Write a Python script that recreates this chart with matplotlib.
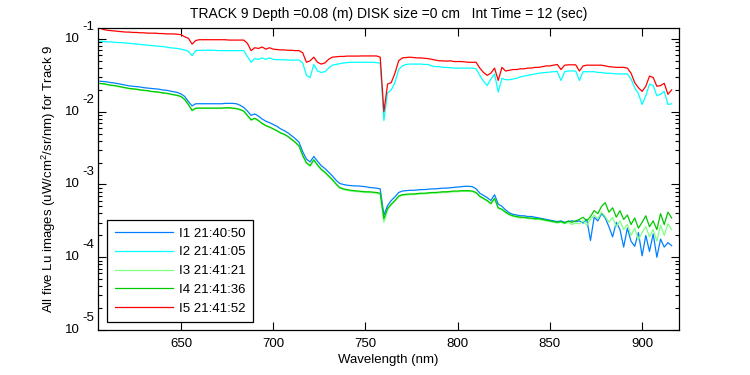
import numpy as np
import matplotlib
matplotlib.use('Agg')
import matplotlib.pyplot as plt
from matplotlib import transforms
from matplotlib.ticker import LogLocator, NullFormatter, FixedLocator

plt.rcParams['font.family'] = ['Liberation Sans', 'DejaVu Sans']
plt.rcParams['mathtext.fontset'] = 'custom'
plt.rcParams['mathtext.rm'] = 'Liberation Sans'
plt.rcParams['mathtext.it'] = 'Liberation Sans:italic'

# wavelength grid (nm), 606..916 every 2 nm
wavelength = np.arange(606, 917, 2)

# log10 of Lu values
i1_log10 = [
    -1.58, -1.585, -1.59, -1.60, -1.605, -1.615, -1.625, -1.635, -1.645, -1.65,
    -1.655, -1.66, -1.67, -1.675, -1.68, -1.685, -1.69, -1.70, -1.705, -1.715,
    -1.725, -1.735, -1.755, -1.79, -1.86, -1.92, -1.89, -1.89, -1.89, -1.89,
    -1.89, -1.89, -1.89, -1.89, -1.885, -1.885, -1.885, -1.89, -1.91, -1.94,
    -1.99, -2.05, -2.03, -2.06, -2.10, -2.13, -2.15, -2.175, -2.20, -2.235,
    -2.26, -2.29, -2.33, -2.37, -2.42, -2.55, -2.65, -2.69, -2.615, -2.68,
    -2.74, -2.78, -2.83, -2.88, -2.94, -2.985, -3.00, -3.01, -3.015, -3.02,
    -3.02, -3.025, -3.03, -3.04, -3.045, -3.05, -3.06, -3.42, -3.29, -3.22,
    -3.17, -3.11, -3.09, -3.085, -3.08, -3.08, -3.075, -3.07, -3.07, -3.065,
    -3.06, -3.06, -3.055, -3.05, -3.05, -3.045, -3.04, -3.035, -3.03, -3.025,
    -3.025, -3.03, -3.06, -3.12, -3.15, -3.18, -3.22, -3.14, -3.27, -3.30,
    -3.35, -3.39, -3.41, -3.42, -3.43, -3.43, -3.44, -3.44, -3.45, -3.46,
    -3.47, -3.48, -3.49, -3.50, -3.51, -3.50, -3.52, -3.51, -3.50, -3.51,
    -3.50, -3.53, -3.48, -3.77, -3.45, -3.50, -3.40, -3.46, -3.58, -3.72,
    -3.52, -3.62, -3.86, -3.60, -3.78, -3.85, -3.66, -3.98, -3.70, -3.92,
    -3.68, -4.00, -3.75, -3.86, -3.80, -3.84,
]
i2_log10 = [
    -1.03, -1.035, -1.04, -1.04, -1.045, -1.05, -1.05, -1.055, -1.06, -1.065,
    -1.07, -1.075, -1.08, -1.085, -1.09, -1.095, -1.10, -1.105, -1.11, -1.12,
    -1.125, -1.13, -1.14, -1.15, -1.17, -1.23, -1.16, -1.155, -1.155, -1.155,
    -1.155, -1.155, -1.16, -1.16, -1.16, -1.16, -1.16, -1.16, -1.16, -1.16,
    -1.24, -1.32, -1.27, -1.28, -1.26, -1.28, -1.26, -1.28, -1.285, -1.285,
    -1.285, -1.29, -1.29, -1.29, -1.29, -1.33, -1.50, -1.53, -1.35, -1.44,
    -1.46, -1.45, -1.40, -1.36, -1.35, -1.34, -1.33, -1.325, -1.32, -1.32,
    -1.32, -1.32, -1.32, -1.32, -1.32, -1.325, -1.33, -2.12, -1.74, -1.70,
    -1.60, -1.42, -1.37, -1.35, -1.345, -1.345, -1.345, -1.345, -1.35, -1.35,
    -1.37, -1.38, -1.38, -1.39, -1.39, -1.395, -1.40, -1.40, -1.40, -1.40,
    -1.40, -1.40, -1.41, -1.50, -1.58, -1.64, -1.55, -1.48, -1.73, -1.54,
    -1.56, -1.56, -1.55, -1.54, -1.52, -1.51, -1.50, -1.49, -1.48, -1.47,
    -1.465, -1.46, -1.455, -1.45, -1.445, -1.57, -1.45, -1.44, -1.44, -1.44,
    -1.57, -1.45, -1.45, -1.45, -1.45, -1.46, -1.46, -1.47, -1.47, -1.475,
    -1.48, -1.48, -1.48, -1.48, -1.55, -1.67, -1.75, -1.90, -1.78, -1.62,
    -1.64, -1.78, -1.76, -1.72, -1.90, -1.89,
]
i3_log10 = [
    -1.615, -1.62, -1.63, -1.64, -1.645, -1.655, -1.665, -1.675, -1.685, -1.69,
    -1.695, -1.705, -1.71, -1.715, -1.725, -1.73, -1.735, -1.745, -1.75, -1.76,
    -1.77, -1.78, -1.795, -1.835, -1.905, -1.99, -1.955, -1.955, -1.955, -1.955,
    -1.955, -1.955, -1.955, -1.955, -1.95, -1.95, -1.955, -1.96, -1.975, -1.995,
    -2.055, -2.12, -2.095, -2.125, -2.165, -2.195, -2.215, -2.24, -2.265, -2.295,
    -2.315, -2.345, -2.385, -2.425, -2.475, -2.61, -2.71, -2.75, -2.67, -2.74,
    -2.80, -2.84, -2.89, -2.94, -3.00, -3.05, -3.07, -3.08, -3.09, -3.095,
    -3.10, -3.105, -3.11, -3.11, -3.115, -3.12, -3.13, -3.52, -3.35, -3.28,
    -3.23, -3.17, -3.15, -3.145, -3.14, -3.14, -3.135, -3.13, -3.13, -3.125,
    -3.12, -3.12, -3.115, -3.11, -3.11, -3.105, -3.10, -3.10, -3.095, -3.095,
    -3.095, -3.10, -3.12, -3.17, -3.20, -3.23, -3.27, -3.20, -3.33, -3.35,
    -3.39, -3.42, -3.44, -3.45, -3.46, -3.46, -3.47, -3.47, -3.48, -3.48,
    -3.49, -3.50, -3.51, -3.52, -3.53, -3.52, -3.54, -3.52, -3.55, -3.53,
    -3.54, -3.50, -3.56, -3.48, -3.42, -3.47, -3.38, -3.44, -3.52, -3.45,
    -3.58, -3.50, -3.62, -3.55, -3.70, -3.60, -3.76, -3.66, -3.58, -3.72,
    -3.62, -3.78, -3.56, -3.70, -3.54, -3.62,
]
i4_log10 = [
    -1.61, -1.615, -1.625, -1.635, -1.64, -1.65, -1.66, -1.67, -1.68, -1.685,
    -1.69, -1.70, -1.705, -1.71, -1.72, -1.725, -1.73, -1.74, -1.745, -1.755,
    -1.765, -1.775, -1.79, -1.83, -1.90, -1.98, -1.95, -1.95, -1.95, -1.95,
    -1.95, -1.95, -1.95, -1.95, -1.945, -1.945, -1.95, -1.955, -1.97, -1.99,
    -2.05, -2.11, -2.09, -2.12, -2.16, -2.19, -2.21, -2.235, -2.26, -2.29,
    -2.31, -2.34, -2.38, -2.42, -2.47, -2.60, -2.70, -2.74, -2.66, -2.73,
    -2.79, -2.83, -2.88, -2.93, -2.99, -3.04, -3.06, -3.07, -3.08, -3.085,
    -3.09, -3.095, -3.10, -3.10, -3.105, -3.11, -3.12, -3.47, -3.33, -3.27,
    -3.22, -3.16, -3.14, -3.135, -3.13, -3.13, -3.125, -3.12, -3.12, -3.115,
    -3.11, -3.11, -3.105, -3.10, -3.10, -3.095, -3.09, -3.09, -3.085, -3.085,
    -3.085, -3.09, -3.11, -3.16, -3.19, -3.22, -3.26, -3.19, -3.32, -3.34,
    -3.38, -3.41, -3.43, -3.44, -3.45, -3.45, -3.46, -3.46, -3.47, -3.47,
    -3.48, -3.49, -3.50, -3.51, -3.52, -3.51, -3.53, -3.50, -3.52, -3.50,
    -3.48, -3.45, -3.50, -3.44, -3.36, -3.40, -3.30, -3.25, -3.38, -3.32,
    -3.45, -3.36, -3.48, -3.42, -3.55, -3.46, -3.60, -3.52, -3.43, -3.58,
    -3.50, -3.62, -3.40, -3.55, -3.38, -3.46,
]
i5_log10 = [
    -0.85, -0.87, -0.88, -0.885, -0.89, -0.895, -0.90, -0.905, -0.905, -0.91,
    -0.91, -0.915, -0.915, -0.92, -0.92, -0.92, -0.925, -0.925, -0.93, -0.93,
    -0.93, -0.935, -0.94, -0.97, -0.99, -1.07, -1.02, -1.01, -1.01, -1.01,
    -1.01, -1.01, -1.01, -1.01, -1.01, -1.015, -1.015, -1.015, -1.015, -1.015,
    -1.06, -1.16, -1.12, -1.13, -1.11, -1.14, -1.12, -1.14, -1.145, -1.15,
    -1.15, -1.155, -1.155, -1.16, -1.16, -1.19, -1.32, -1.30, -1.25, -1.32,
    -1.345, -1.33, -1.28, -1.25, -1.245, -1.24, -1.24, -1.235, -1.235, -1.235,
    -1.235, -1.233, -1.233, -1.233, -1.233, -1.233, -1.25, -2.00, -1.62, -1.60,
    -1.47, -1.30, -1.26, -1.255, -1.25, -1.255, -1.26, -1.26, -1.265, -1.27,
    -1.28, -1.29, -1.30, -1.30, -1.305, -1.30, -1.31, -1.31, -1.31, -1.315,
    -1.32, -1.32, -1.32, -1.40, -1.46, -1.50, -1.47, -1.40, -1.57, -1.39,
    -1.44, -1.43, -1.42, -1.42, -1.41, -1.41, -1.40, -1.40, -1.39, -1.39,
    -1.38, -1.37, -1.37, -1.36, -1.35, -1.42, -1.36, -1.355, -1.355, -1.355,
    -1.44, -1.37, -1.36, -1.36, -1.36, -1.36, -1.36, -1.37, -1.38, -1.385,
    -1.39, -1.39, -1.39, -1.40, -1.47, -1.60, -1.67, -1.72, -1.65, -1.51,
    -1.53, -1.65, -1.64, -1.61, -1.76, -1.70,
]

series_log10 = [i1_log10, i2_log10, i3_log10, i4_log10, i5_log10]
labels = ['I1 21:40:50', 'I2 21:41:05', 'I3 21:41:21', 'I4 21:41:36', 'I5 21:41:52']
colors = ['#0080ff', '#00ffff', '#80ff80', '#00c800', '#ff0000']

x_ticks = [650, 700, 750, 800, 850, 900]
y_decades = [-5, -4, -3, -2, -1]

title = 'TRACK 9 Depth =0.08 (m) DISK size =0 cm   Int Time = 12 (sec)'

fig = plt.figure(figsize=(7.5, 3.75), dpi=100)
ax = fig.add_axes([98/750, 1-330/375, (679-98)/750, (330-28)/375])

for vals, lab, col in zip(series_log10, labels, colors):
    ax.plot(wavelength, 10.0 ** np.asarray(vals), color=col, lw=0.9, label=lab)

ax.set_yscale('log')
ax.set_xlim(605, 920)
ax.set_ylim(1e-5, 0.1416)

ax.xaxis.set_major_locator(FixedLocator(x_ticks))
ax.yaxis.set_major_locator(FixedLocator([10.0**d for d in y_decades]))
ax.yaxis.set_minor_locator(LogLocator(base=10, subs=np.arange(2, 10)))
ax.yaxis.set_major_formatter(NullFormatter())
ax.yaxis.set_minor_formatter(NullFormatter())

ax.tick_params(which='both', direction='in', top=True, right=True, width=0.8, colors='black')
ax.tick_params(which='major', length=5.5, labelsize=9.5, pad=6)
ax.tick_params(which='minor', length=2.8)
for s in ax.spines.values():
    s.set_linewidth(0.9)

# MATLAB-style log tick labels: "10" with raised exponent
trans = transforms.blended_transform_factory(ax.transAxes, ax.transData)
for d in y_decades:
    t_base = transforms.offset_copy(trans, fig=fig, x=-18, y=0, units='dots')
    ax.text(0, 10.0**d, '10', transform=t_base, ha='right', va='center', fontsize=9.5)
    t_exp = transforms.offset_copy(trans, fig=fig, x=-16, y=6, units='dots')
    ax.text(0, 10.0**d, f'{d}', transform=t_exp, ha='left', va='bottom', fontsize=9.5)

ax.set_title(title, fontsize=10, pad=7)
ax.set_xlabel('Wavelength (nm)', fontsize=9.5, labelpad=3)
ax.set_ylabel('All five Lu images (uW/cm$^2$/sr/nm) for Track 9', fontsize=9.5)
ax.yaxis.set_label_coords(-0.068, 0.5)

leg = ax.legend(loc='lower left', bbox_to_anchor=(0.016, 0.026), fontsize=9.5,
                frameon=True, fancybox=False, edgecolor='black', framealpha=1,
                handlelength=4.4, handletextpad=0.5, labelspacing=0.5, borderpad=0.55,
                borderaxespad=0)
leg.get_frame().set_linewidth(0.9)

fig.savefig('out.png', dpi=100)
